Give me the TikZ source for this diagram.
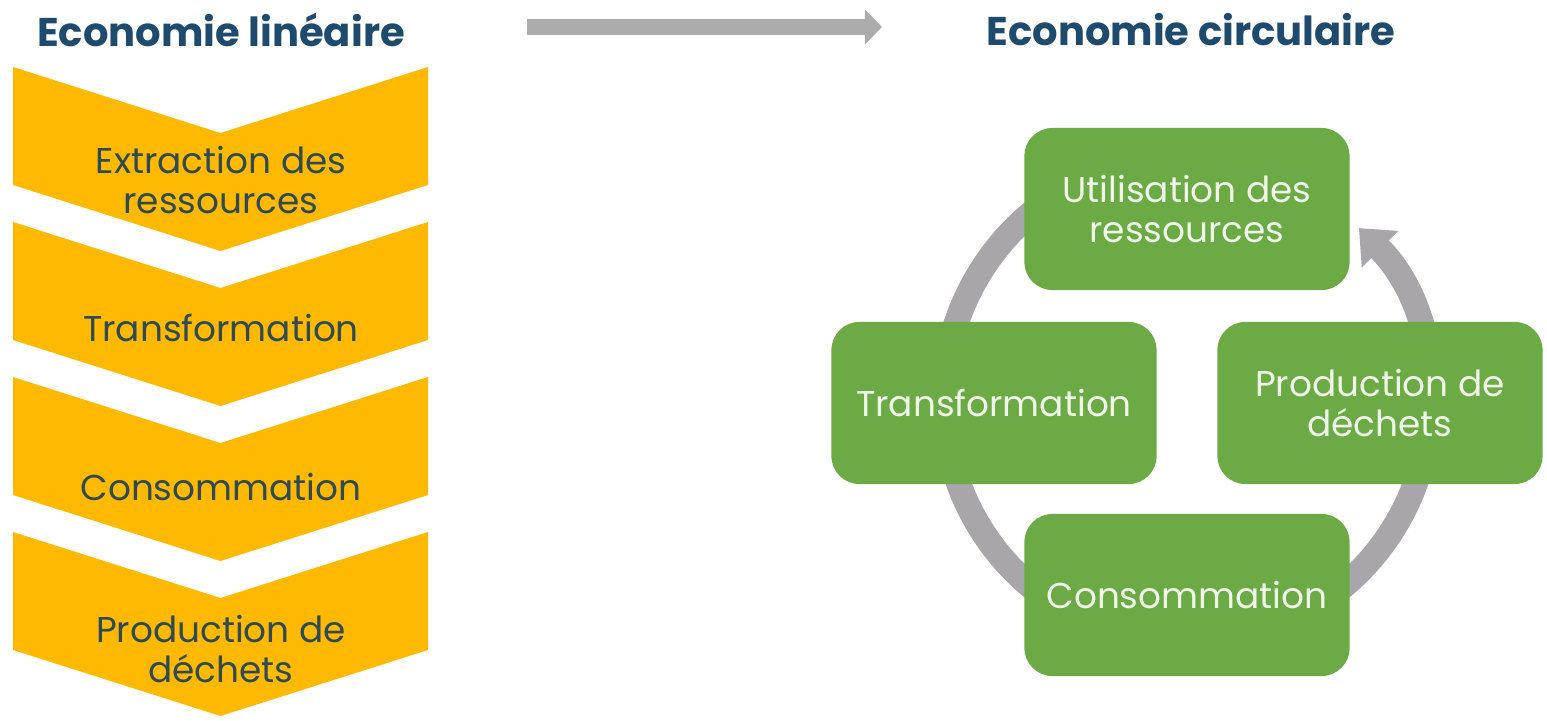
\documentclass[tikz,border=0pt]{standalone}
\usepackage{fontspec}
\setmainfont{Poppins}
\usetikzlibrary{arrows.meta}
\definecolor{chevron}{HTML}{FFB900}
\definecolor{leaf}{HTML}{6BAA44}
\definecolor{navy}{HTML}{1E4A6E}
\definecolor{slate}{HTML}{2F4A52}
\definecolor{ringgray}{HTML}{A8A6AB}
\definecolor{pale}{HTML}{EEF7E8}
\tikzset{
  title/.style={text=navy, font=\fontsize{11.4}{13}\selectfont\bfseries},
  steptext/.style={text=slate, align=center, font=\fontsize{10.2}{11.4}\selectfont},
  greenbox/.style={fill=leaf, rounded corners=0.28cm, minimum width=3.25cm,
    minimum height=1.62cm, text=pale, align=center,
    font=\fontsize{10.2}{11.4}\selectfont},
}
\begin{document}
\begin{tikzpicture}[x=0.01cm,y=0.01cm]
  \useasboundingbox (0,0) rectangle (1547,-721);

  % titres
  \node[title] (tlin) at (221,-30) {Economie linéaire};
  \node[title] (tcirc) at (1191,-30) {Economie circulaire};

  \coordinate (a0) at (527,-27);
  \coordinate (a1) at (882,-27);
  \draw[line width=0.15cm, gray!65, -{Triangle[length=0.17cm,width=0.34cm]}] (a0) -- (a1);

  % economie lineaire
  \foreach \t in {67,222,377,532}
    \fill[chevron] (13,-\t) -- (220.5,-\t-66) -- (428,-\t) -- (428,-\t-118)
      -- (220.5,-\t-184) -- (13,-\t-118) -- cycle;

  \node[steptext] (ext) at (221,-180) {Extraction des\\ressources};
  \node[steptext] (trl) at (221,-328) {Transformation};
  \node[steptext] (col) at (221,-487) {Consommation};
  \node[steptext] (prl) at (221,-649) {Production de\\déchets};

  % economie circulaire
  \coordinate (hub) at (1187,-400);
  \draw[ringgray, line width=0.25cm, -{Triangle[length=0.3cm,width=0.5cm]}]
    (hub) ++(-300:2.43cm) arc (-300:45:2.43cm);

  \node[greenbox] (use) at (1187,-209) {Utilisation des\\ressources};
  \node[greenbox] (trc) at (994,-403) {Transformation};
  \node[greenbox] (prc) at (1380,-403) {Production de\\déchets};
  \node[greenbox] (coc) at (1187,-595) {Consommation};
\end{tikzpicture}
\end{document}
